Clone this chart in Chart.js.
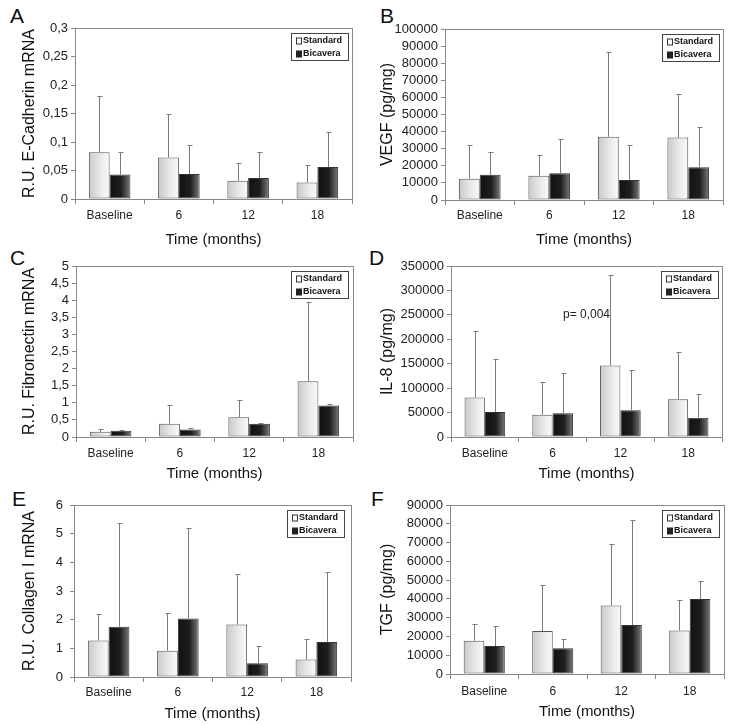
<!DOCTYPE html>
<html>
<head>
<meta charset="utf-8">
<script src="https://cdn.jsdelivr.net/npm/chart.js@4.4.0/dist/chart.umd.min.js"></script>
<style>
body { margin: 0; background: #fff; }
#wrap { position: relative; width: 736px; height: 726px; overflow: hidden; }
canvas { position: absolute; }
.letter { position: absolute; font: 21px "Liberation Sans", Arial, sans-serif; line-height: 1; color: #111; }
</style>
</head>
<body>
<div id="wrap">
  <div class="letter" style="left:10px;top:5px">A</div>
  <div class="letter" style="left:380px;top:5px">B</div>
  <div class="letter" style="left:10px;top:247px">C</div>
  <div class="letter" style="left:369px;top:247px">D</div>
  <div class="letter" style="left:12px;top:488px">E</div>
  <div class="letter" style="left:371px;top:488px">F</div>
  <canvas id="chartA" width="368" height="249" style="left:0;top:0"></canvas>
  <canvas id="chartB" width="368" height="249" style="left:368px;top:0"></canvas>
  <canvas id="chartC" width="368" height="243" style="left:0;top:240px"></canvas>
  <canvas id="chartD" width="368" height="243" style="left:368px;top:240px"></canvas>
  <canvas id="chartE" width="368" height="243" style="left:0;top:480px"></canvas>
  <canvas id="chartF" width="368" height="241" style="left:368px;top:480px"></canvas>
</div>
<script>
const categories = ['Baseline', '6', '12', '18'];
const seriesNames = ['Standard', 'Bicavera'];
const xTitle = 'Time (months)';

// A - E-Cadherin
const cadherinStandard = [0.082, 0.073, 0.032, 0.029];
const cadherinStandardSD = [0.098, 0.076, 0.032, 0.031];
const cadherinBicavera = [0.043, 0.044, 0.037, 0.056];
const cadherinBicaveraSD = [0.039, 0.051, 0.045, 0.062];

// B - VEGF
const vegfStandard = [12500, 14200, 37000, 36500];
const vegfStandardSD = [19900, 12300, 49700, 25500];
const vegfBicavera = [14800, 15600, 11700, 19100];
const vegfBicaveraSD = [13300, 20300, 20300, 23800];

// C - Fibronectin
const fibroStandard = [0.15, 0.39, 0.58, 1.63];
const fibroStandardSD = [0.08, 0.54, 0.50, 2.32];
const fibroBicavera = [0.18, 0.22, 0.39, 0.92];
const fibroBicaveraSD = [0.03, 0.04, 0.03, 0.05];

// D - IL-8
const il8Standard = [81000, 45500, 146500, 77500];
const il8StandardSD = [136500, 66500, 185500, 97000];
const il8Bicavera = [51000, 48500, 55000, 39500];
const il8BicaveraSD = [109000, 83000, 82500, 49500];
const il8Note = ['p= 0,004'];
const il8NoteAt = [1.5, 250000];

// E - Collagen I
const collagenStandard = [1.27, 0.92, 1.83, 0.61];
const collagenStandardSD = [0.94, 1.33, 1.76, 0.72];
const collagenBicavera = [1.75, 2.04, 0.48, 1.22];
const collagenBicaveraSD = [3.62, 3.15, 0.60, 2.43];

// F - TGF
const tgfStandard = [17700, 22900, 36500, 23200];
const tgfStandardSD = [8700, 24300, 32800, 16000];
const tgfBicavera = [14900, 13700, 26100, 39900];
const tgfBicaveraSD = [10500, 4700, 55800, 9600];

const GROUP = 0.6;

Chart.defaults.font.family = '"Liberation Sans", Arial, sans-serif';
Chart.defaults.color = '#222';

function barGradient(c, d) {
    const chart = c.chart;
    const x = chart.scales.x;
    if (!x || !chart.chartArea || c.dataIndex === undefined) {
        return d ? '#222' : '#e0e0e0';
    }
    const cw = x.width / categories.length;
    const bw = cw * GROUP / 2;
    const left = x.getPixelForValue(c.dataIndex) - bw + d * bw;
    const g = chart.ctx.createLinearGradient(left, 0, left + bw, 0);
    if (d === 0) {
        g.addColorStop(0, '#c8c8c8');
        g.addColorStop(0.55, '#e8e8e8');
        g.addColorStop(1, '#fafafa');
    } else {
        g.addColorStop(0, '#111');
        g.addColorStop(0.55, '#1e1e1e');
        g.addColorStop(1, '#7a7a7a');
    }
    return g;
}

// decimal comma like the original axis labels
function commaTick(v) {
    return String(Math.round(v * 10000) / 10000).replace('.', ',');
}

const frame = {
    id: 'frame',
    beforeDatasetsDraw(chart) {
        const {ctx, chartArea: a} = chart;
        ctx.save();
        ctx.strokeStyle = '#888';
        ctx.lineWidth = 1;
        ctx.strokeRect(Math.round(a.left) + 0.5, Math.round(a.top) + 0.5,
            Math.round(a.right - a.left), Math.round(a.bottom - a.top));
        ctx.restore();
    }
};

const errorBars = {
    id: 'errorBars',
    afterDatasetsDraw(chart) {
        const ctx = chart.ctx;
        const y = chart.scales.y;
        ctx.save();
        ctx.strokeStyle = '#7a7a7a';
        ctx.lineWidth = 1;
        chart.data.datasets.forEach((ds, i) => {
            chart.getDatasetMeta(i).data.forEach((bar, j) => {
                const top = Math.round(y.getPixelForValue(ds.data[j] + ds.sd[j])) + 0.5;
                const x = Math.round(bar.x) + 0.5;
                ctx.beginPath();
                ctx.moveTo(x, bar.y);
                ctx.lineTo(x, top);
                ctx.moveTo(x - 2, top);
                ctx.lineTo(x + 3, top);
                ctx.stroke();
            });
        });
        ctx.restore();
    }
};

const boxLegend = {
    id: 'boxLegend',
    afterDraw(chart, args, o) {
        const {ctx, chartArea} = chart;
        const w = 57, h = 27;
        const x0 = Math.round(chartArea.right - (o.right || 4) - w);
        const y0 = Math.round(chartArea.top + 5);
        ctx.save();
        ctx.fillStyle = '#fff';
        ctx.fillRect(x0, y0, w, h);
        ctx.strokeStyle = '#444';
        ctx.lineWidth = 1;
        ctx.strokeRect(x0 + 0.5, y0 + 0.5, w, h);
        ctx.font = 'bold 9px "Liberation Sans", Arial, sans-serif';
        ctx.textBaseline = 'middle';
        chart.data.datasets.forEach((ds, i) => {
            const cy = y0 + 7.5 + i * 13;
            if (i === 0) {
                ctx.fillStyle = '#fff';
                ctx.fillRect(x0 + 5, cy - 3, 6, 6);
                ctx.strokeStyle = '#333';
                ctx.strokeRect(x0 + 5.5, cy - 2.5, 5, 6);
            } else {
                ctx.fillStyle = '#222';
                ctx.fillRect(x0 + 5, cy - 3, 6, 7);
            }
            ctx.fillStyle = '#111';
            ctx.fillText(ds.label, x0 + 12, cy + 0.5);
        });
        ctx.restore();
    }
};

const note = {
    id: 'note',
    afterDatasetsDraw(chart, args, o) {
        if (!o.text) return;
        const x = chart.scales.x.getPixelForValue(o.at[0]);
        const y = chart.scales.y.getPixelForValue(o.at[1]);
        const ctx = chart.ctx;
        ctx.save();
        ctx.font = '12px "Liberation Sans", Arial, sans-serif';
        ctx.fillStyle = '#222';
        ctx.textAlign = 'center';
        ctx.textBaseline = 'middle';
        ctx.fillText(o.text, x, y);
        ctx.restore();
    }
};

function makePanel(id, p) {
    const ctx = document.getElementById(id).getContext('2d');
    return new Chart(ctx, {
        type: 'bar',
        data: {
            labels: categories,
            datasets: [{
                label: seriesNames[0],
                data: p.standard,
                sd: p.standardSD,
                backgroundColor: c => barGradient(c, 0),
                borderColor: '#555',
                borderWidth: 1,
                borderSkipped: false
            }, {
                label: seriesNames[1],
                data: p.bicavera,
                sd: p.bicaveraSD,
                backgroundColor: c => barGradient(c, 1),
                borderColor: '#333',
                borderWidth: 1,
                borderSkipped: false
            }]
        },
        options: {
            responsive: false,
            animation: false,
            devicePixelRatio: 1,
            categoryPercentage: GROUP,
            barPercentage: 1,
            layout: {
                padding: { top: p.padTop, right: p.padRight, left: 0, bottom: 0 }
            },
            plugins: {
                legend: { display: false },
                tooltip: { enabled: false },
                boxLegend: { right: p.legendRight },
                note: { text: p.note, at: p.noteAt }
            },
            scales: {
                x: {
                    grid: { offset: true, drawOnChartArea: false, drawTicks: true, tickLength: 5, color: '#888' },
                    border: { color: '#888' },
                    ticks: { font: { size: 12 }, color: '#222', padding: p.xPad },
                    title: { display: true, text: xTitle, font: { size: 15 }, color: '#111', padding: { top: 0, bottom: 0 } },
                    afterFit: s => { s.height = p.xH; }
                },
                y: {
                    min: 0,
                    max: p.max,
                    grid: { drawOnChartArea: false, drawTicks: true, tickLength: 4, color: '#888' },
                    border: { color: '#888' },
                    ticks: {
                        stepSize: p.step,
                        autoSkip: false,
                        font: { size: 13 },
                        color: '#222',
                        padding: p.yPad || 3,
                        callback: commaTick
                    },
                    title: { display: true, text: p.yTitle, font: { size: 16 }, color: '#111', padding: { top: p.yTitlePad, bottom: 0 } },
                    afterFit: s => { s.width = p.yW; }
                }
            }
        },
        plugins: [frame, errorBars, note, boxLegend]
    });
}

makePanel('chartA', {
    standard: cadherinStandard, standardSD: cadherinStandardSD,
    bicavera: cadherinBicavera, bicaveraSD: cadherinBicaveraSD,
    max: 0.3, step: 0.05, yTitle: 'R.U. E-Cadherin mRNA',
    padTop: 28, padRight: 16, yW: 75, xH: 50, xPad: 4, yTitlePad: 20, legendRight: 4
});

makePanel('chartB', {
    standard: vegfStandard, standardSD: vegfStandardSD,
    bicavera: vegfBicavera, bicaveraSD: vegfBicaveraSD,
    max: 100000, step: 10000, yTitle: 'VEGF (pg/mg)',
    padTop: 29, padRight: 13, yW: 77, xH: 49, xPad: 3, yTitlePad: 10, legendRight: 4
});

makePanel('chartC', {
    standard: fibroStandard, standardSD: fibroStandardSD,
    bicavera: fibroBicavera, bicaveraSD: fibroBicaveraSD,
    max: 5, step: 0.5, yTitle: 'R.U. Fibronectin mRNA',
    padTop: 26, padRight: 15, yW: 76, xH: 46, xPad: 4, yTitlePad: 20, legendRight: 5
});

makePanel('chartD', {
    standard: il8Standard, standardSD: il8StandardSD,
    bicavera: il8Bicavera, bicaveraSD: il8BicaveraSD,
    max: 350000, step: 50000, yTitle: 'IL-8 (pg/mg)',
    padTop: 26, padRight: 14, yW: 83, xH: 46, xPad: 4, yTitlePad: 10, legendRight: 0,
    note: il8Note[0], noteAt: il8NoteAt
});

makePanel('chartE', {
    standard: collagenStandard, standardSD: collagenStandardSD,
    bicavera: collagenBicavera, bicaveraSD: collagenBicaveraSD,
    max: 6, step: 1, yTitle: 'R.U. Collagen I mRNA',
    padTop: 25, padRight: 17, yW: 74, xH: 46, xPad: 3, yTitlePad: 20, legendRight: 7, yPad: 7
});

makePanel('chartF', {
    standard: tgfStandard, standardSD: tgfStandardSD,
    bicavera: tgfBicavera, bicaveraSD: tgfBicaveraSD,
    max: 90000, step: 10000, yTitle: 'TGF (pg/mg)',
    padTop: 25, padRight: 12, yW: 82, xH: 47, xPad: 5, yTitlePad: 10, legendRight: 5
});
</script>
</body>
</html>
